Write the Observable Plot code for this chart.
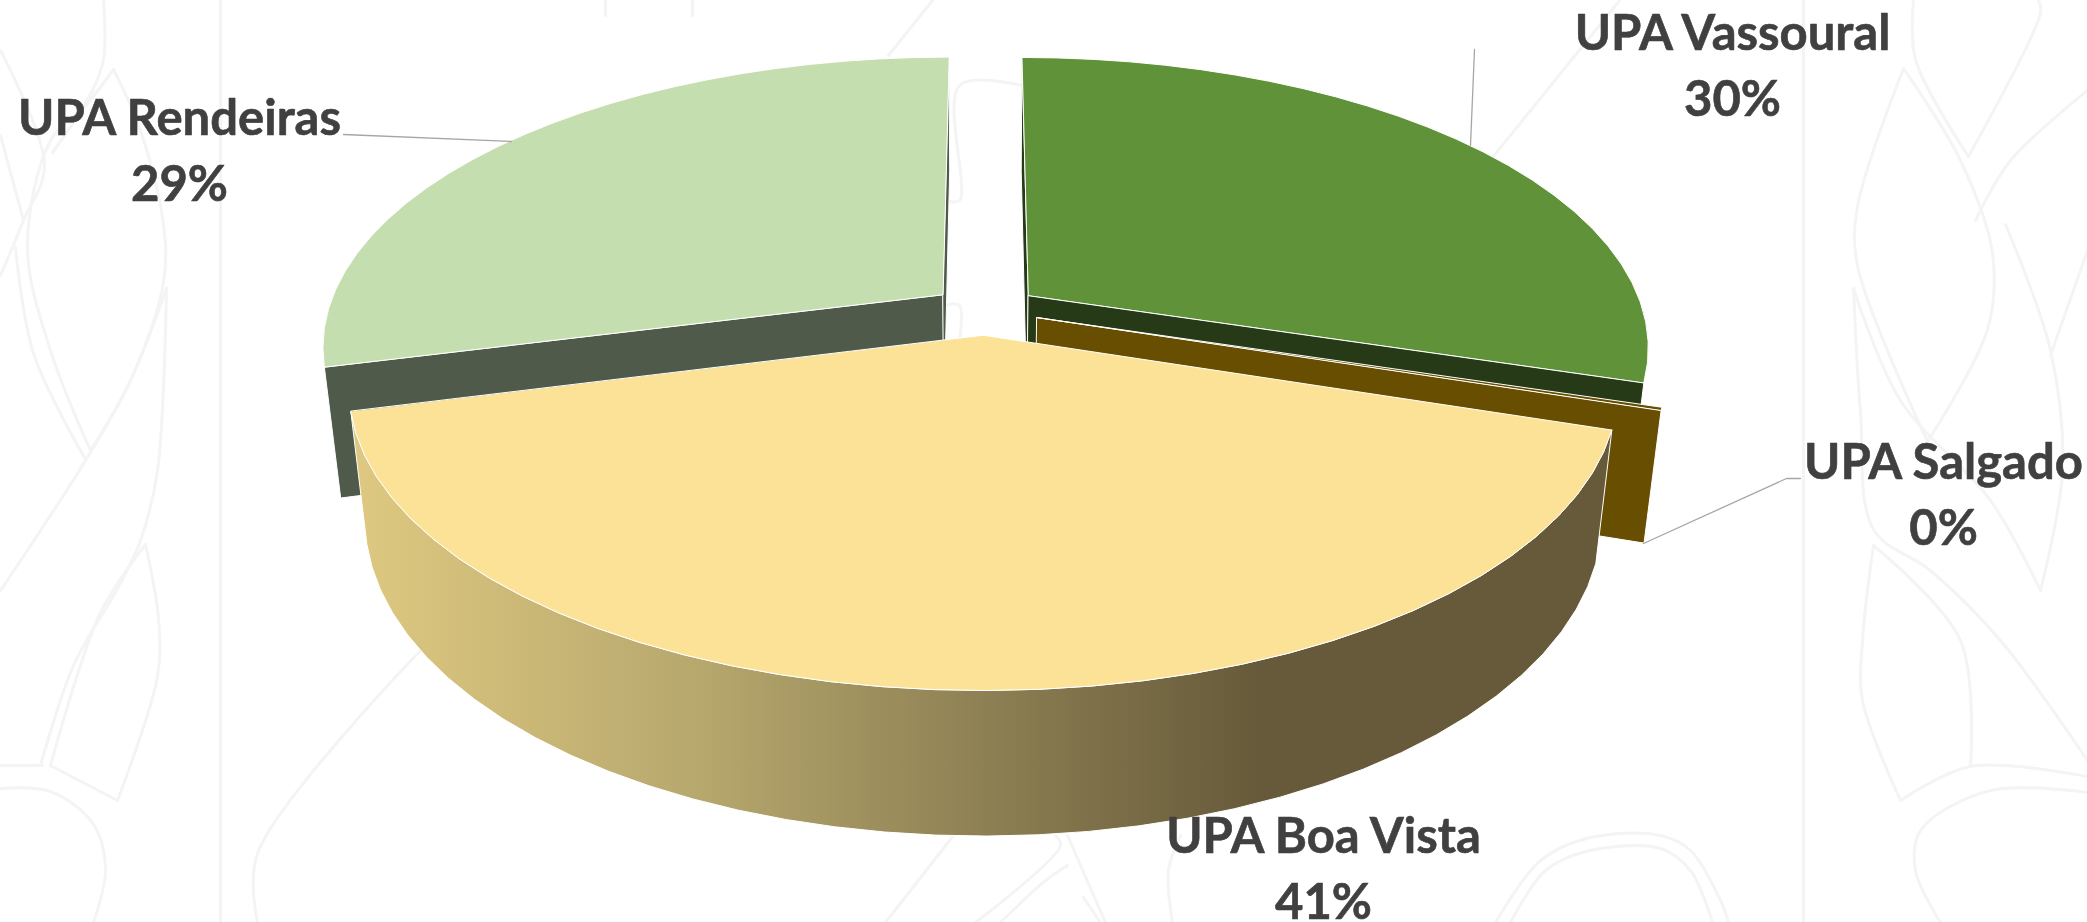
<!DOCTYPE html>
<html><head><meta charset="utf-8">
<script src="https://cdn.jsdelivr.net/npm/d3@7"></script>
<script src="https://cdn.jsdelivr.net/npm/@observablehq/plot@0.6"></script>
<style>html,body{margin:0;padding:0;background:#fff}svg{display:block}</style>
</head><body><div id="chart"></div>
<script>
const names = ["UPA Vassoural", "UPA Salgado", "UPA Boa Vista", "UPA Rendeiras"];
const values = [29.8, 0.15, 41.05, 29.0];
const topColors = ["#609339", "#674e00", "#fbe296", "#c5deb0"];
const sideColors = ["#263a17", "#674e00", "url(#wall)", "#4f5a4a"];

// text anchor of each label (baseline of the last line) and its leader line
const labelX = [1732, 1943, 1323, 179];
const labelY = [115, 544, 918, 200];
const leaders = [
  [[1474, 49], [1470, 145]],
  [[1800, 478], [1786, 478], [1643, 543]],
  [],
  [[343, 134], [511, 141]]
];

// faint decorative watermark behind the chart
const watermark = [
  [[103,0],[103,59],[90,94],[52,152]],
  [[113,69],[85,105],[50,140],[27,247],[50,350],[90,450]],
  [[113,69],[140,130],[163,224],[163,282],[130,380],[90,450]],
  [[166,288],[130,380],[85,460],[40,530],[0,590]],
  [[166,288],[157,470],[140,540],[117,588],[73,665],[40,765]],
  [[145,544],[158,618],[157,676],[117,800]],
  [[145,544],[100,612],[50,765]],
  [[50,765],[117,800]],
  [[0,765],[42,765]],
  [[0,788],[50,791],[93,824],[105,870],[93,922]],
  [[0,50],[44,165],[23,220],[0,275]],
  [[0,135],[23,220]],
  [[15,247],[33,353],[85,459]],
  [[1913,0],[1915,59],[1968,156]],
  [[2038,0],[2040,12],[1968,156]],
  [[1903,68],[1857,206],[1857,265],[1927,441]],
  [[1903,68],[1960,160],[1992,253],[1987,329],[1927,441]],
  [[1853,288],[1860,412],[1873,529],[1930,570],[2000,640],[2087,760]],
  [[1853,288],[1900,400],[1990,500],[2040,590]],
  [[2005,224],[2050,350],[2062,470],[2040,590]],
  [[2087,90],[2010,160],[1975,220]],
  [[2087,250],[2050,355]],
  [[1873,545],[1862,640],[1862,700],[1900,800]],
  [[1873,545],[1960,640],[1970,766]],
  [[1900,800],[1970,766],[2087,776]],
  [[2087,792],[1990,790],[1920,830],[1915,870],[1940,922]],
  [[1803,0],[1803,922]],
  [[220,0],[220,922]],
  [[257,922],[257,853],[420,650]],
  [[1619,0],[1492,157]],
  [[932,0],[888,55]],
  [[605,0],[605,15]],
  [[692,0],[692,15]],
  [[945,200],[959,200],[959,85],[1022,85]],
  [[945,305],[959,305],[959,340]],
  [[953,835],[885,922]],
  [[1055,835],[1060,845],[975,922]],
  [[1067,835],[1105,922]],
  [[1067,865],[1045,880],[1000,922]],
  [[1083,897],[1100,922]],
  [[1172,922],[1168,870],[1180,835]],
  [[1495,922],[1540,860],[1590,837],[1660,835],[1690,850],[1720,900],[1728,922]],
  [[1510,922],[1545,870],[1590,850],[1660,848],[1690,870],[1712,922]]
];

// perspective model of the tilted, exploded pie
const model = {cx: 984.6, cy: 309.5, a: 615, b: 283.8, k: 0.1733, m: 0.0245, c: 131, explode: 0.088};
const rad = d => d * Math.PI / 180;
function project(theta, r, depth, mid) {
  const X = r * Math.sin(rad(theta)) + model.explode * Math.sin(rad(mid));
  const Y = -r * Math.cos(rad(theta)) - model.explode * Math.cos(rad(mid));
  const w = 1 - model.k * Y + model.m * depth;
  return {x: model.cx + model.a * X / w, y: model.cy + (model.b * Y + model.c * depth) / w};
}
const total = d3.sum(values);
let run = 0;
const slices = values.map((v, i) => {
  const start = run / total * 360; run += v;
  const end = run / total * 360;
  return {i, start, end, mid: (start + end) / 2};
});
function arc(s, from, to, depth) {
  const n = Math.max(1, Math.ceil(Math.abs(to - from) / 4));
  return d3.range(n + 1).map(j => project(from + (to - from) * j / n, 1, depth, s.mid));
}
const topFace = s => [project(0, 0, 0, s.mid), ...arc(s, s.start, s.end, 0)];
const cutFace = (s, th) => [project(th, 0, 0, s.mid), project(th, 1, 0, s.mid), project(th, 1, 1, s.mid), project(th, 0, 1, s.mid)];
const outerWall = (s, a, b) => [...arc(s, a, b, 0), ...arc(s, b, a, 1)];

const poly = (pts, fill, sw = 1) => Plot.line(pts, {x: "x", y: "y", fill, stroke: "#fff", strokeWidth: sw, curve: "linear-closed"});
const [V, S, B, R] = slices;

const wallGradient = () => {
  const g = d3.create("svg:defs");
  const lg = g.append("linearGradient").attr("id", "wall").attr("x1", 0).attr("x2", 1).attr("y1", 0).attr("y2", 0);
  [[0, "#dfc981"], [0.28, "#b6a76d"], [0.72, "#665a3a"], [1, "#665a3a"]].forEach(([o, c]) =>
    lg.append("stop").attr("offset", o).attr("stop-color", c));
  return g.node();
};

const labels = names.map((n, i) => ({name: n, pct: d3.format(".0%")(values[i] / total), x: labelX[i], y: labelY[i]}));

const chart = Plot.plot({
  width: 2087, height: 922, margin: 0,
  style: {background: "#fff"},
  x: {domain: [0, 2087], range: [0, 2087], axis: null},
  y: {domain: [0, 922], range: [0, 922], axis: null},
  marks: [
    wallGradient,
    ...watermark.map(p => Plot.line(p, {x: d => d[0], y: d => d[1], stroke: "#f4f4f4", strokeWidth: 3, curve: "catmull-rom"})),
    // Rendeiras
    poly(outerWall(R, R.start, 270), sideColors[3]),
    poly(cutFace(R, R.start), sideColors[3]),
    poly(cutFace(R, R.end), sideColors[3]),
    poly(topFace(R), topColors[3]),
    // Vassoural
    poly(outerWall(V, 90, V.end), sideColors[0]),
    poly(cutFace(V, V.start), sideColors[0]),
    poly(cutFace(V, V.end), sideColors[0]),
    poly(topFace(V), topColors[0]),
    // Salgado
    poly(cutFace(S, S.end), sideColors[1]),
    poly(topFace(S), topColors[1]),
    // Boa Vista
    poly(outerWall(B, B.start, B.end), sideColors[2]),
    poly(topFace(B), topColors[2]),
    // leader lines and labels
    ...leaders.filter(l => l.length).map(l => Plot.line(l, {x: d => d[0], y: d => d[1], stroke: "#a6a6a6", strokeWidth: 1.3})),
    Plot.text(labels, {
      x: "x", y: "y", text: d => d.name + "\n" + d.pct,
      textAnchor: "middle", lineAnchor: "bottom", lineHeight: 1.34,
      fontFamily: "Lato, 'Open Sans', sans-serif", fontWeight: 700, fontSize: 49, fill: "#404040",
      stroke: "#404040", strokeWidth: 0.6
    })
  ]
});
document.getElementById("chart").append(chart);
</script></body></html>
